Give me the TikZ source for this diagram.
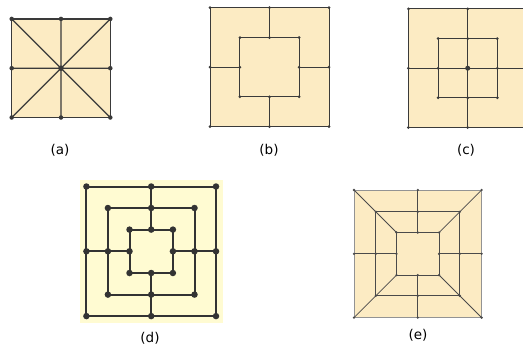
\documentclass[tikz,border=0pt]{standalone}
\usepackage{fontspec}
\setmainfont{DejaVu Sans}
\definecolor{tan}{HTML}{FCEBC3}
\definecolor{lem}{HTML}{FFFBD2}
\definecolor{ln}{HTML}{3A3A3A}
\definecolor{lnE}{HTML}{4A4A4A}
\definecolor{dk}{HTML}{333333}
\begin{document}
\begin{tikzpicture}[x=1pt,y=-1pt,
  lbl/.style={font=\fontsize{13.5}{15}\selectfont, inner sep=0pt},
  dotA/.style={circle,fill=ln,inner sep=0pt,minimum size=4.5pt},
  dotS/.style={circle,fill=ln,inner sep=0pt,minimum size=3pt},
  dotD/.style={circle,fill=dk,inner sep=0pt,minimum size=6.5pt},
  dotE/.style={circle,fill=lnE,inner sep=0pt,minimum size=2.6pt},
  edgeA/.style={draw=ln,line width=1.2pt},
  edgeS/.style={draw=ln,line width=0.9pt},
  edgeD/.style={draw=dk,line width=2pt},
  edgeE/.style={draw=lnE,line width=0.75pt}]
\clip (0,0) rectangle (523,351);
\fill[white] (0,0) rectangle (523,351);
% ---------------- (a)
\begin{scope}[shift={(61,68.2)}]
  \foreach \n/\x/\y in {tl/-1/-1,t/0/-1,tr/1/-1,r/1/0,br/1/1,b/0/1,bl/-1/1,l/-1/0}
    {\coordinate (a\n) at (49.3*\x,49.3*\y);}
  \coordinate (ac) at (0,0);
  \fill[tan] (atl) rectangle (abr);
  \draw[edgeA] (atl) rectangle (abr);
  \draw[edgeA] (at) -- (ab) (al) -- (ar) (atl) -- (abr) (atr) -- (abl);
  \foreach \n in {tl,t,tr,r,br,b,bl,l} {\node[dotA] (da\n) at (a\n) {};}
  \node[dotA,minimum size=5.5pt] (dac) at (ac) {};
\end{scope}
% ---------------- (b)
\begin{scope}[shift={(269.5,67.2)}]
  \foreach \n/\x/\y in {tl/-1/-1,t/0/-1,tr/1/-1,r/1/0,br/1/1,b/0/1,bl/-1/1,l/-1/0}
    {\coordinate (bo\n) at (59.5*\x,59.5*\y);
     \coordinate (bi\n) at (29.6*\x,29.6*\y);}
  \fill[tan] (botl) rectangle (bobr);
  \draw[edgeS] (botl) rectangle (bobr);
  \draw[edgeS] (bitl) rectangle (bibr);
  \draw[edgeS] (bot) -- (bit) (bob) -- (bib) (bol) -- (bil) (bor) -- (bir);
  \foreach \n in {tl,t,tr,r,br,b,bl,l}
    {\node[dotS] (dbo\n) at (bo\n) {};
     \node[dotS] (dbi\n) at (bi\n) {};}
\end{scope}
% ---------------- (c)
\begin{scope}[shift={(467.7,68.2)}]
  \foreach \n/\x/\y in {tl/-1/-1,t/0/-1,tr/1/-1,r/1/0,br/1/1,b/0/1,bl/-1/1,l/-1/0}
    {\coordinate (co\n) at (59.3*\x,59.3*\y);
     \coordinate (ci\n) at (29.6*\x,29.6*\y);}
  \coordinate (cc) at (0,0);
  \fill[tan] (cotl) rectangle (cobr);
  \draw[edgeS] (cotl) rectangle (cobr);
  \draw[edgeS] (citl) rectangle (cibr);
  \draw[edgeS] (cot) -- (cob) (col) -- (cor);
  \foreach \n in {tl,t,tr,r,br,b,bl,l}
    {\node[dotS] (dco\n) at (co\n) {};
     \node[dotS] (dci\n) at (ci\n) {};}
  \node[dotS,minimum size=5pt] (dcc) at (cc) {};
\end{scope}
% ---------------- (d)
\begin{scope}[shift={(151.2,251.3)}]
  \fill[lem] (-71.5,-71.5) rectangle (71.5,71.5);
  \foreach \n/\x/\y in {tl/-1/-1,t/0/-1,tr/1/-1,r/1/0,br/1/1,b/0/1,bl/-1/1,l/-1/0}
    {\coordinate (do\n) at (64.8*\x,64.8*\y);
     \coordinate (dm\n) at (43.3*\x,43.3*\y);
     \coordinate (di\n) at (21.7*\x,21.7*\y);}
  \draw[edgeD] (dotl) rectangle (dobr);
  \draw[edgeD] (dmtl) rectangle (dmbr);
  \draw[edgeD] (ditl) rectangle (dibr);
  \draw[edgeD] (dot) -- (dit) (dob) -- (dib) (dol) -- (dil) (dor) -- (dir);
  \foreach \n in {tl,t,tr,r,br,b,bl,l}
    {\node[dotD] (ddo\n) at (do\n) {};
     \node[dotD] (ddm\n) at (dm\n) {};
     \node[dotD] (ddi\n) at (di\n) {};}
\end{scope}
% ---------------- (e)
\begin{scope}[shift={(417.8,253.8)}]
  \foreach \n/\x/\y in {tl/-1/-1,t/0/-1,tr/1/-1,r/1/0,br/1/1,b/0/1,bl/-1/1,l/-1/0}
    {\coordinate (eo\n) at (63.8*\x,63.8*\y);
     \coordinate (em\n) at (42*\x,42*\y);
     \coordinate (ei\n) at (21.3*\x,21.3*\y);}
  \fill[tan] (eotl) rectangle (eobr);
  \draw[edgeE,draw=gray!85] (eotl) rectangle (eobr);
  \draw[edgeE] (emtl) rectangle (embr);
  \draw[edgeE] (eitl) rectangle (eibr);
  \draw[edgeE] (eot) -- (eit) (eob) -- (eib) (eol) -- (eil) (eor) -- (eir);
  \draw[edgeE] (eotl) -- (eitl) (eotr) -- (eitr) (eobl) -- (eibl) (eobr) -- (eibr);
  \foreach \n in {tl,t,tr,r,br,b,bl,l}
    {\node[dotE] (deo\n) at (eo\n) {};
     \node[dotE] (dem\n) at (em\n) {};
     \node[dotE] (dei\n) at (ei\n) {};}
\end{scope}
% ---------------- labels
\node[lbl] (la) at (60,150) {(a)};
\node[lbl] (lb) at (269,150) {(b)};
\node[lbl] (lc) at (466,150) {(c)};
\node[lbl] (ld) at (150,338) {(d)};
\node[lbl] (le) at (418,335) {(e)};
\end{tikzpicture}
\end{document}
